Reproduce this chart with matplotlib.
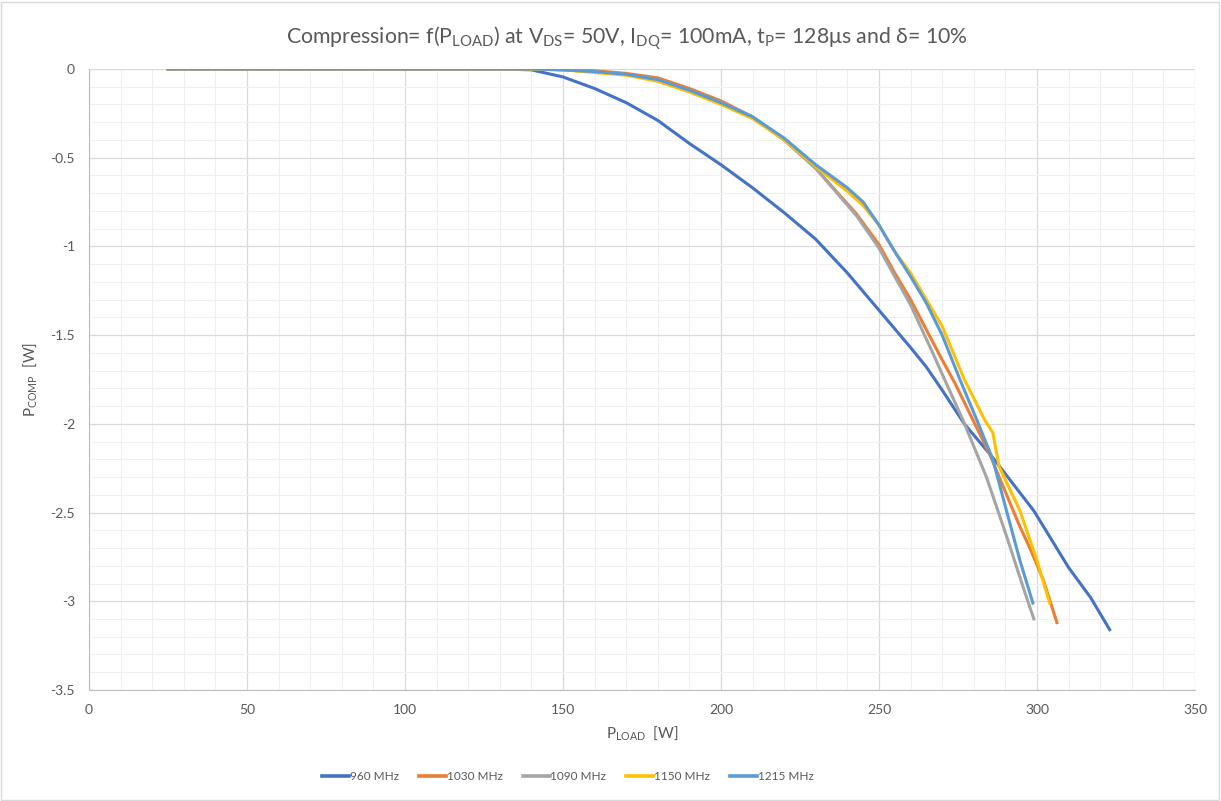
import matplotlib.pyplot as plt
from matplotlib.patches import Rectangle

plt.rcParams['font.family'] = ['Lato', 'DejaVu Sans']
plt.rcParams['mathtext.fontset'] = 'custom'
plt.rcParams['mathtext.rm'] = 'Lato'
plt.rcParams['mathtext.it'] = 'Lato:italic'

# --- data ---
x_960 = [25, 130, 140, 150, 160, 170, 180, 190, 200, 210, 220, 230, 240, 250, 260, 265, 270, 277, 286, 299, 310, 317, 323]
y_960 = [0, 0, -0.005, -0.045, -0.11, -0.19, -0.29, -0.42, -0.54, -0.67, -0.81, -0.96, -1.15, -1.36, -1.57, -1.68, -1.81, -2.0, -2.19, -2.49, -2.81, -2.98, -3.16]

x_1030 = [25, 140, 150, 160, 170, 180, 190, 200, 210, 220, 230, 243, 250, 255, 260, 265, 270, 274, 285, 294.6, 298, 302, 306.3]
y_1030 = [0, 0, -0.004, -0.01, -0.025, -0.05, -0.11, -0.18, -0.27, -0.40, -0.56, -0.82, -0.99, -1.15, -1.30, -1.47, -1.64, -1.77, -2.17, -2.58, -2.71, -2.88, -3.12]

x_1090 = [25, 140, 150, 160, 170, 180, 190, 200, 210, 220, 230, 243, 250, 255, 260, 267, 270, 276.6, 284, 290.5, 295.6, 299]
y_1090 = [0, 0, -0.005, -0.015, -0.03, -0.06, -0.12, -0.19, -0.27, -0.40, -0.56, -0.83, -1.01, -1.17, -1.33, -1.60, -1.72, -1.98, -2.30, -2.64, -2.92, -3.10]

x_1150 = [25, 140, 150, 160, 170, 180, 190, 200, 210, 220, 230, 240, 245, 250, 255, 260, 265, 270, 277, 283.5, 286, 288, 294.6, 300, 304]
y_1150 = [0, 0, -0.005, -0.02, -0.035, -0.07, -0.13, -0.20, -0.28, -0.40, -0.55, -0.69, -0.77, -0.88, -1.03, -1.15, -1.30, -1.45, -1.75, -1.98, -2.05, -2.24, -2.49, -2.77, -3.01]

x_1215 = [25, 140, 150, 160, 170, 180, 190, 200, 210, 220, 230, 240, 245, 250, 255, 260, 265, 270, 275.6, 281, 286, 290.5, 294.6, 298.7]
y_1215 = [0, 0, -0.005, -0.015, -0.03, -0.06, -0.12, -0.19, -0.27, -0.39, -0.54, -0.67, -0.75, -0.88, -1.03, -1.17, -1.32, -1.50, -1.75, -1.98, -2.20, -2.50, -2.77, -3.01]

series = [
    ("960 MHz", x_960, y_960, "#4472C4"),
    ("1030 MHz", x_1030, y_1030, "#ED7D31"),
    ("1090 MHz", x_1090, y_1090, "#A5A5A5"),
    ("1150 MHz", x_1150, y_1150, "#FFC000"),
    ("1215 MHz", x_1215, y_1215, "#5B9BD5"),
]

x_ticks = [0, 50, 100, 150, 200, 250, 300, 350]
y_ticks = [0, -0.5, -1, -1.5, -2, -2.5, -3, -3.5]
y_tick_labels = ["0", "-0.5", "-1", "-1.5", "-2", "-2.5", "-3", "-3.5"]

# --- figure ---
fig = plt.figure(figsize=(12.21, 8.01), dpi=100)
ax = fig.add_axes([0.0729, 0.1386, 0.9058, 0.7753])

for label, xs, ys, col in series:
    ax.plot(xs, ys, color=col, lw=2.2, label=label, solid_joinstyle='round')

ax.set_xlim(0, 350)
ax.set_ylim(-3.5, 0)
ax.set_xticks(x_ticks)
ax.set_yticks(y_ticks)
ax.set_yticklabels(y_tick_labels)
ax.set_xticks(range(0, 351, 10), minor=True)
ax.set_yticks([-i * 0.1 for i in range(36)], minor=True)
ax.grid(which='major', color='#D9D9D9', lw=0.9)
ax.grid(which='minor', color='#F0F0F0', lw=0.8)
ax.set_axisbelow(True)
ax.tick_params(which='both', length=0, labelsize=10, labelcolor='#595959', pad=10)

ax.spines['top'].set_visible(False)
ax.spines['right'].set_visible(False)
ax.spines['left'].set_color('#BFBFBF')
ax.spines['bottom'].set_color('#BFBFBF')

ax.set_xlabel(r"P$_{\mathrm{LOAD}}$  [W]", fontsize=11, color='#595959', labelpad=6)
ax.set_ylabel(r"P$_{\mathrm{COMP}}$  [W]", fontsize=11, color='#595959', labelpad=8)

fig.text(0.513, 0.952,
         r"Compression= f(P$_{\mathrm{LOAD}}$) at V$_{\mathrm{DS}}$= 50V, I$_{\mathrm{DQ}}$= 100mA, t$_{\mathrm{P}}$= 128μs and δ= 10%",
         ha='center', va='center', fontsize=15.3, color='#595959')

leg = fig.legend(loc='center', bbox_to_anchor=(0.465, 0.031), ncol=5, frameon=False,
                 fontsize=8.5, handlelength=2.3, handletextpad=0.05, columnspacing=1.7)
for t in leg.get_texts():
    t.set_color('#595959')
for h in leg.legend_handles:
    h.set_linewidth(2.6)

fig.patches.append(Rectangle((0.001, 0.001), 0.997, 0.997, transform=fig.transFigure,
                             fill=False, edgecolor='#D9D9D9', lw=1))

fig.savefig("out.png", dpi=100)
